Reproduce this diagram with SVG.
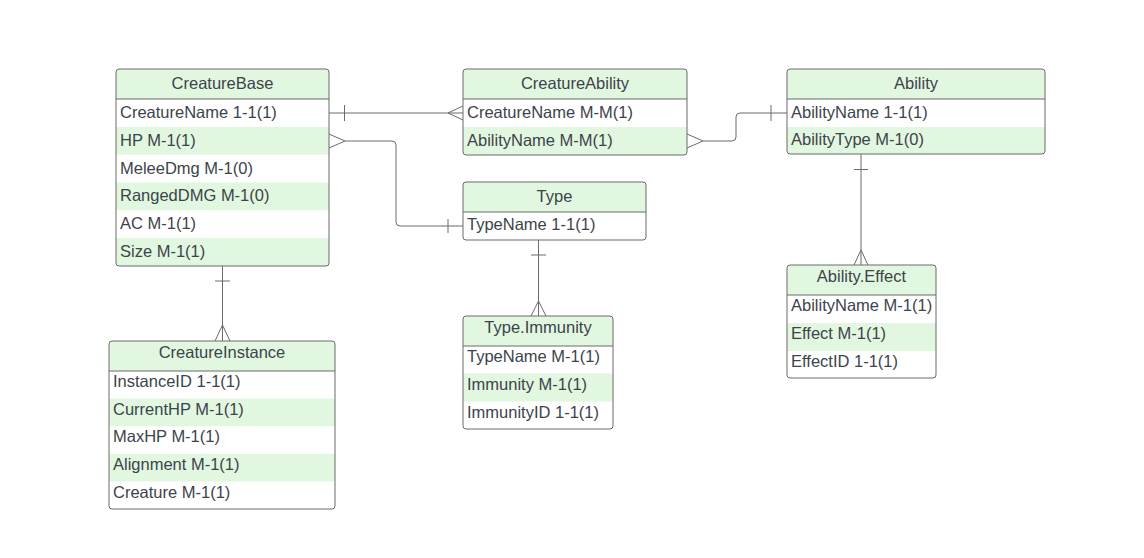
<svg xmlns="http://www.w3.org/2000/svg" width="1144" height="558" viewBox="0 0 1144 558">
<style>
.bg{fill:#ffffff}
.box{fill:none;stroke:#6b6b6b;stroke-width:1}
.hdr{fill:#e2f7e0}
.g{fill:#e2f7e0}
.sep{stroke:#6b6b6b;stroke-width:1}
text{font-family:"Liberation Sans",Arial,sans-serif;font-size:16.5px;fill:#3d434b}
.t{text-anchor:middle}
.c{fill:none;stroke:#6b6b6b;stroke-width:1}
</style>
<rect width="1144" height="558" fill="#ffffff"/>
<g id="connectors">
<path class="c" d="M329,113 H463 M344.5,105 V121 M448,113 L463,106 M448,113 L463,120"/>
<path class="c" d="M329,134 L345,141 L329,148 M345,141 H392 Q396,141 396,145 V222 Q396,226 400,226 H463 M448,219 V233"/>
<path class="c" d="M687,134 L703,141 L687,148 M703,141 H732 Q736,141 736,137 V117 Q736,113 740,113 H787 M771,105 V121"/>
<path class="c" d="M222.5,266 V341 M215,281 H230 M215,341 L222.5,325 L230,341"/>
<path class="c" d="M538.5,240 V316 M531,255 H546 M531,316 L538.5,301 L546,316"/>
<path class="c" d="M861,154 V265 M854,169.5 H868 M854,265 L861,250 L868,265"/>
</g>
<g id="CreatureBase">
<rect class="bg" x="116" y="69" width="213" height="197" rx="3"/>
<path class="hdr" d="M116,99 V72 Q116,69 119,69 H326 Q329,69 329,72 V99 Z"/>
<rect class="g" x="116" y="126.8" width="213" height="27.8"/>
<rect class="g" x="116" y="182.4" width="213" height="27.8"/>
<path class="g" d="M116,238 H329 V263 Q329,266 326,266 H119 Q116,266 116,263 Z"/>
<line class="sep" x1="116" y1="99" x2="329" y2="99"/>
<rect class="box" x="116" y="69" width="213" height="197" rx="3"/>
<text class="t" x="222.5" y="88.5">CreatureBase</text>
<text x="120" y="117.5">CreatureName 1-1(1)</text>
<text x="120" y="145.5">HP M-1(1)</text>
<text x="120" y="173.5">MeleeDmg M-1(0)</text>
<text x="120" y="201">RangedDMG M-1(0)</text>
<text x="120" y="228.5">AC M-1(1)</text>
<text x="120" y="256.5">Size M-1(1)</text>
</g>
<g id="CreatureAbility">
<rect class="bg" x="463" y="69" width="224" height="86" rx="3"/>
<path class="hdr" d="M463,99 V72 Q463,69 466,69 H684 Q687,69 687,72 V99 Z"/>
<path class="g" d="M463,127 H687 V152 Q687,155 684,155 H466 Q463,155 463,152 Z"/>
<line class="sep" x1="463" y1="99" x2="687" y2="99"/>
<rect class="box" x="463" y="69" width="224" height="86" rx="3"/>
<text class="t" x="575" y="88.5">CreatureAbility</text>
<text x="467" y="117.5">CreatureName M-M(1)</text>
<text x="467" y="145.5">AbilityName M-M(1)</text>
</g>
<g id="Ability">
<rect class="bg" x="787" y="69" width="258" height="85" rx="3"/>
<path class="hdr" d="M787,99 V72 Q787,69 790,69 H1042 Q1045,69 1045,72 V99 Z"/>
<path class="g" d="M787,127 H1045 V151 Q1045,154 1042,154 H790 Q787,154 787,151 Z"/>
<line class="sep" x1="787" y1="99" x2="1045" y2="99"/>
<rect class="box" x="787" y="69" width="258" height="85" rx="3"/>
<text class="t" x="916" y="88.5">Ability</text>
<text x="791" y="117.5">AbilityName 1-1(1)</text>
<text x="791" y="145">AbilityType M-1(0)</text>
</g>
<g id="Type">
<rect class="bg" x="463" y="182" width="183" height="58" rx="3"/>
<path class="hdr" d="M463,212 V185 Q463,182 466,182 H643 Q646,182 646,185 V212 Z"/>
<line class="sep" x1="463" y1="212" x2="646" y2="212"/>
<rect class="box" x="463" y="182" width="183" height="58" rx="3"/>
<text class="t" x="554.5" y="201.5">Type</text>
<text x="467" y="229.5">TypeName 1-1(1)</text>
</g>
<g id="TypeImmunity">
<rect class="bg" x="463" y="316" width="150" height="113" rx="3"/>
<path class="hdr" d="M463,346 V319 Q463,316 466,316 H610 Q613,316 613,319 V346 Z"/>
<rect class="g" x="463" y="373.5" width="150" height="28"/>
<line class="sep" x1="463" y1="346" x2="613" y2="346"/>
<rect class="box" x="463" y="316" width="150" height="113" rx="3"/>
<text class="t" x="538" y="333">Type.Immunity</text>
<text x="467" y="361.5">TypeName M-1(1)</text>
<text x="467" y="389.5">Immunity M-1(1)</text>
<text x="467" y="417.5">ImmunityID 1-1(1)</text>
</g>
<g id="AbilityEffect">
<rect class="bg" x="787" y="265" width="149" height="113" rx="3"/>
<path class="hdr" d="M787,295 V268 Q787,265 790,265 H933 Q936,265 936,268 V295 Z"/>
<rect class="g" x="787" y="323" width="149" height="28"/>
<line class="sep" x1="787" y1="295" x2="936" y2="295"/>
<rect class="box" x="787" y="265" width="149" height="113" rx="3"/>
<text class="t" x="861.5" y="282">Ability.Effect</text>
<text x="791" y="311">AbilityName M-1(1)</text>
<text x="791" y="339">Effect M-1(1)</text>
<text x="791" y="366.5">EffectID 1-1(1)</text>
</g>
<g id="CreatureInstance">
<rect class="bg" x="109" y="341" width="226" height="168" rx="3"/>
<path class="hdr" d="M109,371 V344 Q109,341 112,341 H332 Q335,341 335,344 V371 Z"/>
<rect class="g" x="109" y="398.6" width="226" height="27.6"/>
<rect class="g" x="109" y="453.8" width="226" height="27.6"/>
<line class="sep" x1="109" y1="371" x2="335" y2="371"/>
<rect class="box" x="109" y="341" width="226" height="168" rx="3"/>
<text class="t" x="222" y="358">CreatureInstance</text>
<text x="113" y="386.5">InstanceID 1-1(1)</text>
<text x="113" y="414.5">CurrentHP M-1(1)</text>
<text x="113" y="442">MaxHP M-1(1)</text>
<text x="113" y="469.5">Alignment M-1(1)</text>
<text x="113" y="497.5">Creature M-1(1)</text>
</g>
</svg>
